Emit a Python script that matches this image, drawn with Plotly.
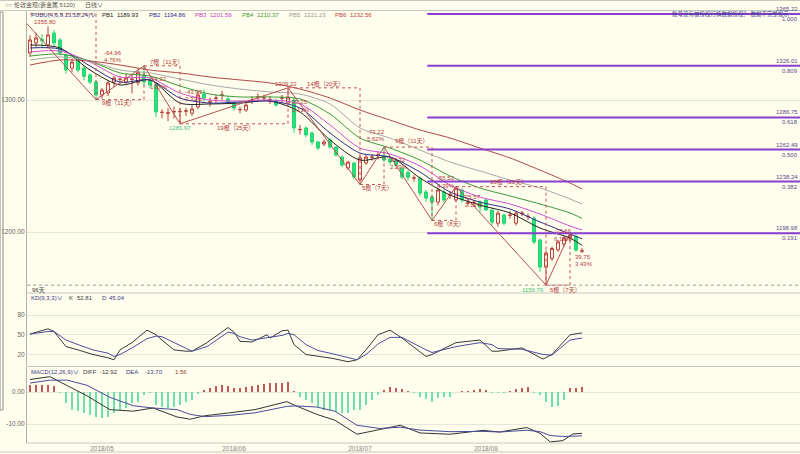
import plotly.graph_objects as go

W, H = 800, 454
LM = 27
BG = "#FFFDEC"
FONT = "Liberation Sans, Noto Sans CJK SC, sans-serif"

# ---------------- data ----------------
open_ = [1335.6, 1343.2, 1346.0, 1341.7, 1350.8, 1345.5, 1334.1, 1324.2, 1330.3, 1324.2,
         1319.0, 1313.6, 1303.8, 1305.3, 1313.6, 1315.5, 1313.6, 1315.5, 1313.0, 1319.0,
         1315.2, 1311.4, 1290.5, 1290.0, 1291.0, 1291.0, 1291.5, 1290.0, 1294.7, 1304.5,
         1298.5, 1301.0, 1303.5, 1300.8, 1297.7, 1292.6, 1292.4, 1299.8, 1302.0, 1301.5,
         1300.2, 1299.2, 1301.3, 1297.7, 1300.0, 1277.5, 1278.8, 1275.0, 1268.2, 1266.7,
         1269.7, 1264.4, 1256.8, 1248.5, 1252.2, 1239.4, 1252.2, 1256.6, 1258.0, 1256.8,
         1255.3, 1254.5, 1248.2, 1245.2, 1240.8, 1240.6, 1230.3, 1226.5, 1222.7, 1230.3,
         1228.0, 1224.2, 1231.8, 1222.0, 1222.3, 1222.7, 1224.2, 1216.6, 1206.7, 1212.8,
         1212.6, 1206.7, 1214.0, 1211.6, 1210.4, 1193.9, 1173.4, 1180.0, 1186.5, 1191.0,
         1195.5, 1196.5, 1185.5]
high = [1349.0, 1351.0, 1350.0, 1355.8, 1353.0, 1347.0, 1335.0, 1331.0, 1331.0, 1326.0,
        1320.0, 1315.0, 1309.0, 1315.0, 1318.0, 1318.0, 1320.0, 1319.0, 1324.0, 1325.9,
        1317.0, 1313.0, 1293.0, 1294.0, 1295.0, 1294.0, 1294.0, 1296.0, 1306.0, 1308.0,
        1302.0, 1304.0, 1307.0, 1303.0, 1299.0, 1295.0, 1298.0, 1303.0, 1305.0, 1304.0,
        1303.0, 1301.0, 1304.0, 1309.22, 1302.0, 1281.0, 1280.0, 1276.0, 1269.0, 1270.0,
        1271.0, 1265.0, 1258.0, 1254.0, 1253.0, 1258.0, 1259.0, 1259.0, 1261.0, 1264.32,
        1257.0, 1256.0, 1249.0, 1247.0, 1243.0, 1242.0, 1232.0, 1228.0, 1233.0, 1232.0,
        1231.0, 1234.37, 1233.0, 1225.0, 1224.0, 1224.0, 1225.0, 1218.0, 1216.0, 1214.0,
        1216.0, 1216.0, 1216.0, 1214.0, 1212.0, 1195.0, 1186.0, 1189.0, 1194.0, 1197.0,
        1199.51, 1198.0, 1188.0]
low = [1332.6, 1340.0, 1340.0, 1339.0, 1341.0, 1334.0, 1320.0, 1321.0, 1321.0, 1315.0,
       1312.0, 1300.26, 1301.0, 1303.0, 1310.0, 1312.0, 1312.0, 1305.0, 1311.0, 1311.0,
       1309.0, 1287.0, 1286.0, 1284.0, 1286.0, 1281.97, 1288.0, 1288.0, 1293.0, 1299.0,
       1295.0, 1298.0, 1300.0, 1297.0, 1292.0, 1290.0, 1291.0, 1297.0, 1299.0, 1299.0,
       1297.0, 1295.0, 1298.0, 1296.0, 1275.0, 1274.0, 1272.0, 1266.0, 1262.0, 1265.0,
       1263.0, 1257.0, 1249.0, 1247.0, 1240.0, 1236.0, 1251.0, 1254.0, 1255.0, 1253.0,
       1251.0, 1249.0, 1240.0, 1239.0, 1238.0, 1227.0, 1223.0, 1208.8, 1220.0, 1222.0,
       1225.0, 1223.0, 1222.0, 1220.0, 1219.0, 1215.0, 1217.0, 1205.0, 1204.0, 1205.0,
       1210.0, 1205.0, 1212.0, 1209.0, 1191.0, 1170.0, 1159.76, 1178.0, 1185.0, 1189.0,
       1193.0, 1185.0, 1184.0]
close = [1345.5, 1347.0, 1345.0, 1349.3, 1343.2, 1335.6, 1322.7, 1328.8, 1322.7, 1318.0,
         1313.6, 1303.8, 1307.6, 1312.9, 1316.7, 1315.7, 1316.7, 1315.7, 1321.0, 1313.6,
         1311.4, 1291.0, 1290.7, 1290.3, 1291.2, 1291.3, 1291.8, 1293.2, 1303.8, 1301.5,
         1298.7, 1301.5, 1303.8, 1298.5, 1293.9, 1292.8, 1296.2, 1300.0, 1302.3, 1301.7,
         1300.4, 1296.2, 1301.5, 1302.3, 1278.8, 1277.7, 1273.5, 1268.2, 1263.6, 1268.2,
         1264.4, 1258.3, 1250.7, 1252.9, 1241.7, 1256.1, 1256.8, 1256.8, 1258.3, 1254.5,
         1253.0, 1250.7, 1241.7, 1241.4, 1241.0, 1229.5, 1225.7, 1222.7, 1231.8, 1224.2,
         1228.2, 1233.3, 1224.2, 1222.2, 1222.5, 1219.0, 1216.6, 1207.5, 1214.3, 1206.7,
         1212.8, 1214.3, 1214.3, 1211.8, 1192.4, 1173.4, 1184.0, 1187.5, 1192.5, 1195.5,
         1197.5, 1186.3, 1185.8]
idx = list(range(len(close)))

month_labels = ["2018/05", "2018/06", "2018/07", "2018/08"]
month_start_idx = [12, 34, 55, 76]

# PUBU lines (read at sample bars)
ma_idx = [0, 5, 10, 15, 20, 25, 30, 35, 40, 45, 50, 55, 60, 65, 70, 75, 80, 85, 90, 92]
pb1 = [1341.7, 1339.4, 1322.7, 1311.4, 1315.2, 1297.7, 1297.0, 1297.7, 1299.2, 1290.9,
       1269.7, 1254.5, 1256.8, 1240.9, 1228.0, 1220.4, 1214.4, 1203.0, 1195.4, 1189.93]
pb2 = [1339.4, 1338.6, 1325.8, 1313.6, 1315.2, 1301.5, 1297.7, 1298.5, 1299.2, 1293.9,
       1275.0, 1259.8, 1256.8, 1245.4, 1230.3, 1222.7, 1217.4, 1207.6, 1198.5, 1194.86]
pb3 = [1336.4, 1337.1, 1328.8, 1317.4, 1316.7, 1305.3, 1300.0, 1299.2, 1300.0, 1297.0,
       1281.1, 1263.6, 1259.1, 1250.0, 1235.6, 1226.5, 1221.2, 1213.6, 1204.5, 1201.59]
pb4 = [1333.3, 1334.8, 1329.5, 1320.5, 1318.2, 1310.6, 1304.5, 1302.3, 1302.3, 1300.8,
       1289.4, 1271.2, 1263.6, 1254.5, 1242.4, 1233.3, 1227.3, 1221.2, 1214.4, 1210.37]
pb5 = [1330.3, 1332.6, 1329.5, 1322.7, 1320.5, 1315.9, 1311.4, 1308.3, 1306.1, 1304.5,
       1297.0, 1278.8, 1271.2, 1262.1, 1253.0, 1246.2, 1239.4, 1233.3, 1225.0, 1221.23]
pb6 = [1326.5, 1330.3, 1329.5, 1326.5, 1322.7, 1320.5, 1317.4, 1315.2, 1312.9, 1308.3,
       1301.5, 1292.4, 1284.8, 1277.3, 1271.2, 1263.6, 1256.1, 1246.9, 1237.1, 1232.56]
pb_names = ["PB1", "PB2", "PB3", "PB4", "PB5", "PB6"]
pb_colors = ["#222222", "#2B2B8C", "#D050D0", "#3A9A3A", "#A8A8A8", "#B04848"]
pb_text_colors = ["#222222", "#2B2B8C", "#C040C0", "#3A9A3A", "#9A9A9A", "#C04040"]

# KD
kd_idx = [0, 3, 4, 6, 8, 10.5, 13, 14, 15, 17, 19.5, 21, 22, 24, 26, 27, 29.5, 33, 34, 35,
          37, 39.5, 40, 42, 43, 44, 46, 48, 50.5, 53, 54.5, 56, 58, 60, 62, 66, 67, 71, 75,
          77, 78, 82, 85.5, 87, 90, 92]
k_vals = [51, 59, 55, 32, 27, 20, 15, 12, 27, 38, 57, 50, 42, 27, 25, 25, 38, 61, 54, 40,
          39, 50, 45, 56, 57, 35, 20, 17, 14, 9, 12, 27, 50, 57, 45, 17, 20, 38, 42,
          25, 25, 30, 13, 20, 50, 52.81]
d_vals = [51, 55, 55, 42, 35, 27, 22, 17, 20, 30, 44, 48, 47, 38, 30, 25, 32, 54, 52, 47,
          42, 45, 46, 49, 52, 50, 35, 26, 21, 15, 12, 20, 36, 46, 46, 27, 23, 32, 38,
          35, 29, 28, 20, 19, 42, 45.04]

# MACD
macd_idx = [0, 3.3, 6.2, 9.5, 13.3, 17.2, 20.5, 24.5, 26.7, 29.2, 33.3, 37.5, 42.8, 44.2,
            47.8, 50.8, 54.5, 58.3, 61.7, 65, 70, 75.5, 78.3, 82.8, 85, 86.7, 88.8, 90.5, 92]
diff_vals = [3.9, 4.8, 2.0, -1.2, -5.5, -6.0, -5.0, -7.8, -8.5, -7.4, -6.5, -5.5, -3.0, -4.2,
             -7.0, -8.8, -13.2, -11.6, -10.4, -12.8, -13.2, -12.0, -12.5, -11.1, -12.9,
             -15.6, -15.2, -13.1, -12.92]
dea_vals = [2.8, 3.7, 3.7, 2.1, -1.65, -4.3, -5.0, -5.5, -7.0, -7.7, -7.3, -6.5, -4.5, -4.35,
            -4.7, -6.0, -10.4, -11.4, -11.0, -11.9, -12.4, -12.3, -12.5, -11.95, -12.4,
            -13.6, -13.9, -13.75, -13.70]
macd_hist = [2.2, 2.2, 2.2, 2.2, 2.0, -0.3, -3.5, -5.6, -6.0, -6.7, -7.2, -7.7, -8.2, -7.7,
             -6.7, -5.6, -5.1, -3.5, -3.0, -0.9, -0.2, -4.1, -4.6, -5.1, -4.6, -4.1, -3.0,
             -2.5, -0.4, 0.6, 1.15, 1.9, 2.2, 1.9, 1.15, 1.35, 1.7, 1.9, 2.2, 2.5, 2.7, 2.7,
             2.9, 3.0, 0.3, -1.5, -2.5, -3.5, -4.6, -5.6, -5.6, -6.1, -6.7, -6.7, -5.6, -5.6,
             -4.1, -2.5, -0.9, 0.6, 1.7, 1.15, 0.8, 0.2, -0.2, -1.5, -2.3, -3.0, -2.0, -1.7,
             -1.5, 0.0, 0.1, 0.3, 0.5, 0.8, 0.4, -0.2, -0.1, -0.2, 0.2, 0.8, 1.15, 1.7,
             -0.3, -1.0, -3.0, -4.8, -4.3, -2.5, 1.35, 1.2, 1.56]

# zig-zag swings: bar index and type; first pivot is before the window
prior_pivot_idx = -2
pivot_idx = [11, 19, 25, 43, 55, 59, 67, 71, 86, 90]
pivot_type = ["L", "H", "L", "H", "L", "H", "L", "H", "L", "H"]

# Fibonacci levels
fib_levels = [1365.22, 1326.01, 1286.75, 1262.49, 1238.24, 1198.98]
fib_ratios = ["1.000", "0.809", "0.618", "0.500", "0.382", "0.191"]
fib_start_idx = 66.2

# ---------------- figure ----------------
X0, X1 = -0.5, (800 - 30) / 6
main_rng = [1375.76 - 0.7576 * 293, 1375.76 - 0.7576 * 10]
kd_rng = [80 - (366 - 315) * 1.519, 80 + (315 - 293) * 1.519]
macd_rng = [-(443 - 392) / 3.2, (392 - 367) / 3.2]

def dom(top, bottom):
    return [1 - bottom / H, 1 - top / H]

def px(x, y):
    return (x - LM) / (W - LM), 1 - y / H

fig = go.Figure()

# PUBU lines
for name, vals, col in zip(pb_names, [pb1, pb2, pb3, pb4, pb5, pb6], pb_colors):
    fig.add_trace(go.Scatter(x=ma_idx, y=vals, mode="lines", line=dict(color=col, width=1, shape="spline", smoothing=0.8),
                             xaxis="x", yaxis="y", hoverinfo="skip", showlegend=False))

# fib lines
for lv in fib_levels:
    fig.add_trace(go.Scatter(x=[fib_start_idx, 200], y=[lv, lv], mode="lines",
                             line=dict(color="#8A3FD0", width=2), xaxis="x", yaxis="y",
                             hoverinfo="skip", showlegend=False))

# pivots
piv_x = [prior_pivot_idx] + pivot_idx
piv_y = [fib_levels[0]] + [high[i] if t == "H" else low[i] for i, t in zip(pivot_idx, pivot_type)]

# bottom dotted line at lowest low
lowest = min(low)
fig.add_trace(go.Scatter(x=[X0, 200], y=[lowest, lowest], mode="lines",
                         line=dict(color="#9A9A9A", width=1, dash="dot"), xaxis="x", yaxis="y",
                         hoverinfo="skip", showlegend=False))

# dashed boxes
for a in range(len(piv_x) - 1):
    xa, ya, xb, yb = piv_x[a], piv_y[a], piv_x[a + 1], piv_y[a + 1]
    fig.add_trace(go.Scatter(x=[xa, xb, xb], y=[ya, ya, yb], mode="lines",
                             line=dict(color="#C85050", width=1, dash="dot"), xaxis="x", yaxis="y",
                             hoverinfo="skip", showlegend=False))

# zigzag
fig.add_trace(go.Scatter(x=piv_x, y=piv_y, mode="lines", line=dict(color="#B85050", width=1),
                         xaxis="x", yaxis="y", hoverinfo="skip", showlegend=False))

# candles
fig.add_trace(go.Candlestick(x=idx, open=open_, high=high, low=low, close=close,
                             increasing=dict(line=dict(color="#B8403A", width=1), fillcolor=BG),
                             decreasing=dict(line=dict(color="#22D870", width=1), fillcolor="#2BE07A"),
                             whiskerwidth=0, xaxis="x", yaxis="y", hoverinfo="skip", showlegend=False))

# KD
fig.add_trace(go.Scatter(x=kd_idx, y=k_vals, mode="lines", line=dict(color="#3A3A3A", width=1),
                         xaxis="x2", yaxis="y2", hoverinfo="skip", showlegend=False))
fig.add_trace(go.Scatter(x=kd_idx, y=d_vals, mode="lines", line=dict(color="#4E4E9E", width=1),
                         xaxis="x2", yaxis="y2", hoverinfo="skip", showlegend=False))

# MACD
fig.add_trace(go.Bar(x=idx, y=macd_hist, width=0.28,
                     marker=dict(color=["#C05A5A" if v >= 0 else "#6EE0B0" for v in macd_hist], line=dict(width=0)),
                     xaxis="x3", yaxis="y3", hoverinfo="skip", showlegend=False))
fig.add_trace(go.Scatter(x=macd_idx, y=diff_vals, mode="lines", line=dict(color="#333333", width=1),
                         xaxis="x3", yaxis="y3", hoverinfo="skip", showlegend=False))
fig.add_trace(go.Scatter(x=macd_idx, y=dea_vals, mode="lines", line=dict(color="#4A4A9A", width=1),
                         xaxis="x3", yaxis="y3", hoverinfo="skip", showlegend=False))

grid = "#E6E6DC"
tickf = dict(size=6.5, color="#666666", family=FONT)
common_x = dict(range=[X0, X1], showgrid=False, zeroline=False, showticklabels=False, ticks="",
                fixedrange=True, rangeslider=dict(visible=False))
fig.update_layout(
    width=W, height=H, margin=dict(l=LM, r=0, t=0, b=0),
    paper_bgcolor=BG, plot_bgcolor=BG, showlegend=False, bargap=0,
    font=dict(family=FONT, size=6, color="#444"),
    xaxis=dict(common_x, anchor="y"),
    xaxis2=dict(common_x, anchor="y2"),
    xaxis3=dict(range=[X0, X1], showgrid=False, zeroline=False, anchor="y3", ticks="",
                tickvals=month_start_idx, ticktext=month_labels,
                tickfont=dict(size=6.5, color="#888888", family=FONT)),
    yaxis=dict(domain=dom(10, 293), range=main_rng, tickvals=[1200, 1300],
               ticktext=["1200.00", "1300.00"], showgrid=True, gridcolor=grid, zeroline=False,
               tickfont=tickf, showline=True, linecolor="#B0B0B0", ticks=""),
    yaxis2=dict(domain=dom(293, 366), range=kd_rng, tickvals=[20, 50, 80], ticktext=["20", "50", "80"],
                showgrid=True, gridcolor=grid, zeroline=False, tickfont=tickf, showline=True,
                linecolor="#B0B0B0", ticks=""),
    yaxis3=dict(domain=dom(367, 443), range=macd_rng, tickvals=[-10, 0], ticktext=["-10.00", "0.00"],
                showgrid=True, gridcolor=grid, zeroline=False, tickfont=tickf, showline=True,
                linecolor="#B0B0B0", ticks=""),
)

# separators / frame
shapes = []
for yy, x0 in [(0.5, -LM), (10.5, -LM), (293, 0), (366.5, 0), (443, 0), (452, -LM)]:
    shapes.append(dict(type="line", xref="paper", yref="paper", x0=(x0) / (W - LM) if x0 else 0,
                       x1=1, y0=1 - yy / H, y1=1 - yy / H, line=dict(color="#C8C8C0", width=1)))
shapes.append(dict(type="rect", xref="paper", yref="paper", x0=px(0, 0)[0], x1=px(3, 0)[0],
                   y0=px(0, 410)[1], y1=px(0, 12)[1], line=dict(color="#909090", width=1)))
fig.update_layout(shapes=shapes)

ann = []

def label(text, x, y, color="#B5403F", size=6, anchor="left", bg=None):
    xp, yp = px(x, y)
    d = dict(text=text, x=xp, y=yp, xref="paper", yref="paper", showarrow=False,
             xanchor=anchor, yanchor="middle", font=dict(size=size, color=color, family=FONT))
    if bg:
        d["bgcolor"] = bg
        d["borderpad"] = 0
    ann.append(d)

# header
label("○○ 伦敦金现(贵金属 5120)", 3, 5, "#555555")
label("日线∨", 83, 5, "#555555")
label("账号没有被授权行情数据授权？ 数据不完整提示", 792, 14, "#3A3A8A", size=5.5, anchor="right")

# main legend
label("PUBU(4,6,9,13,18,24)∨", 29, 15, "#3A3A8A")
leg_x = [100, 147, 193, 240, 287, 333]
for name, vals, col, x in zip(pb_names, [pb1, pb2, pb3, pb4, pb5, pb6], pb_text_colors, leg_x):
    label(name, x, 15, col)
    label(f"{vals[-1]:.2f}", x + 15, 15, col)

# KD legend
label("KD(9,3,3)∨", 29, 298, "#3A3A8A")
label("K", 67, 298, "#3A3A3A")
label(f"{k_vals[-1]:.2f}", 75, 298, "#3A3A3A")
label("D", 100, 298, "#3A3A8A")
label(f"{d_vals[-1]:.2f}", 107, 298, "#3A3A8A")

# MACD legend
label("MACD(12,26,9)∨", 29, 372, "#3A3A8A")
label("DIFF", 81, 372, "#3A3A3A")
label(f"{diff_vals[-1]:.2f}", 98, 372, "#3A3A3A")
label("DEA", 124, 372, "#3A3A8A")
label(f"{dea_vals[-1]:.2f}", 143, 372, "#3A3A8A")
label(f"{macd_hist[-1]:.2f}", 173, 372, "#9A3A3A")

label("96天", 30, 290, "#444444")

# pivot price labels
label(f"{max(high):.2f}", 45, 22, "#B5403F", anchor="center")
label(f"{low[25]:.2f}", 180, 128, "#3CC47C", anchor="center")
label(f"{high[43]:.2f}", 286, 84, "#B5403F", anchor="center")

# swing labels
swing_labels = [
    ("-64.96", 102, 53), ("4.76%", 102, 60),
    ("9根（11天）", 100, 103),
    ("24.32", 149, 79), ("1.87%", 148, 87),
    ("7根（11天）", 148, 62),
    ("-43.93", 183, 92), ("3.31%", 183, 99),
    ("19根（25天）", 215, 128),
    ("14根（20天）", 305, 84),
    ("27.25", 290, 102), ("2.13%", 290, 110),
    ("-73.22", 365, 132), ("5.62%", 365, 139),
    ("28.32", 388, 160), ("2.29%", 388, 167),
    ("5根（7天）", 360, 188),
    ("9根（11天）", 393, 141),
    ("-55.52", 435, 178), ("4.39%", 435, 186),
    ("6根（8天）", 432, 224),
    ("25.57", 463, 197), ("2.13%", 463, 205),
    ("16根（22天）", 488, 182),
    ("-75.66", 552, 231), ("6.13%", 552, 239),
    ("39.75", 573, 257), ("3.43%", 573, 264),
]
for t, x, y in swing_labels:
    label(t, x, y)
label(f"{lowest:.2f}", 546, 290, "#3CC47C", anchor="right")
label("5根（7天）", 548, 290, "#B5403F")

# fib labels
for lv, r in zip(fib_levels, fib_ratios):
    ann.append(dict(text=f"{lv:.2f}", x=1, y=lv, xref="paper", yref="y", xanchor="right", yanchor="middle",
                    yshift=5, showarrow=False, font=dict(size=6, color="#5A4A8A", family=FONT)))
    ann.append(dict(text=r, x=1, y=lv, xref="paper", yref="y", xanchor="right", yanchor="middle",
                    yshift=-5, showarrow=False, font=dict(size=6, color="#5A4A8A", family=FONT)))

fig.update_layout(annotations=ann)
fig.write_html("out.html")
